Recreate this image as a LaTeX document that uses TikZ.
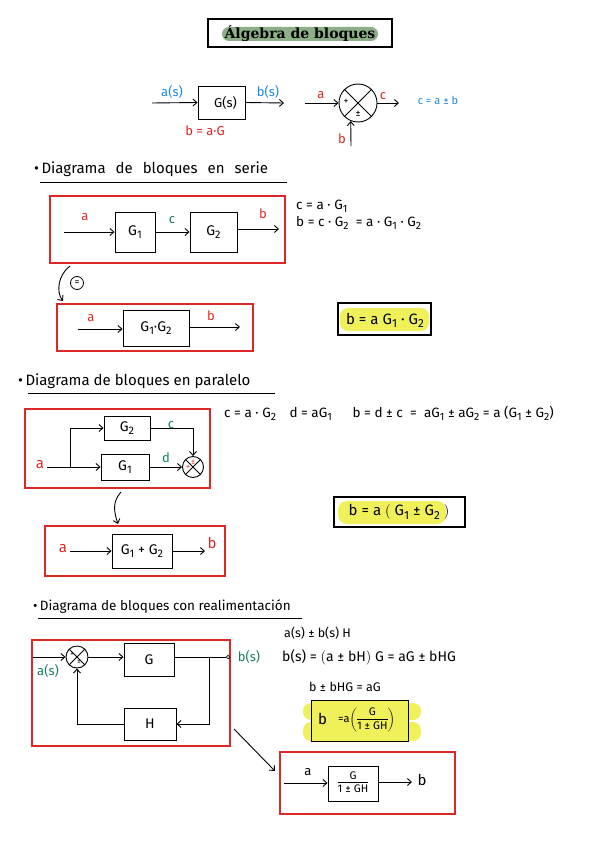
\documentclass[tikz,border=0pt]{standalone}
\usepackage{fontspec}
\setmainfont{Fira Sans}
\newfontfamily\titlefont{DejaVu Serif}
\usetikzlibrary{arrows.meta,calc}
\definecolor{myred}{RGB}{222,40,40}
\definecolor{myblue}{RGB}{30,136,229}
\definecolor{mygreen}{RGB}{25,125,95}
\definecolor{hlyellow}{RGB}{240,240,90}
\definecolor{hlgreen}{RGB}{140,175,135}
\newcommand{\wsp}{\hspace{6pt}}
\newcommand{\sbs}[1]{\raisebox{-0.4ex}{\scalebox{0.78}{#1}}}
\begin{document}
\begin{tikzpicture}[x=1pt,y=-1pt,
  blk/.style={draw,line width=0.9pt,inner sep=0pt,font=\fontsize{14}{16}\selectfont},
  frame/.style={draw=myred,line width=1.1pt,inner sep=0pt},
  arr/.style={-{Straight Barb[length=4pt,width=7pt]},line width=0.9pt},
  ln/.style={line width=0.9pt},
  lbl/.style={font=\fontsize{13}{15}\selectfont,inner sep=0pt},
  eqn/.style={font=\fontsize{13.5}{15}\selectfont,inner sep=0pt,anchor=west},
  head/.style={font=\fontsize{15}{18}\selectfont,inner sep=0pt,anchor=west},
  summer/.style={draw,circle,line width=0.9pt,inner sep=0pt},
  sgn/.style={font=\fontsize{10}{11}\selectfont,inner sep=0pt},
  res/.style={draw,line width=1.1pt,inner sep=0pt}]
\useasboundingbox (0,0) rectangle (599,848);
\fill[white] (0,0) rectangle (599,848);

% ---------------- title
\node[res,minimum width=184pt,minimum height=28pt] (tbox) at (300,33) {};
\fill[hlgreen,rounded corners=7pt] (222,27) rectangle (378,41);
\node[font=\titlefont\bfseries\fontsize{14}{16}\selectfont,inner sep=0pt] (ttext) at (300,34) {Álgebra de bloques};

% ---------------- basic block
\coordinate (in0) at (152,103);
\node[blk,minimum width=47pt,minimum height=33pt,font=\fontsize{13}{15}\selectfont] (gs) at (221.5,102.5) {\hspace*{8pt}G(s)};
\coordinate (out0) at (284,103);
\draw[arr] (in0) -- (gs.west);
\draw[arr] (gs.east) -- (out0);
\node[lbl,text=myblue] (las) at (172,92) {a(s)};
\node[lbl,text=myblue] (lbs) at (268,92) {b(s)};
\node[lbl,text=myred] (lbag) at (205,131) {b = a·G};

% ---------------- basic summer
\node[summer,minimum size=38pt] (s1) at (358,103) {};
\draw[ln] (s1.north west) -- (s1.south east);
\draw[ln] (s1.north east) -- (s1.south west);
\coordinate (s1in) at (305,103);
\coordinate (s1out) at (399,103);
\coordinate (s1b) at (351,146);
\draw[arr] (s1in) -- (s1.west);
\draw[arr] (s1.east) -- (s1out);
\draw[arr] (s1b) -- (s1.-112);
\node[lbl,text=myred] (s1la) at (321,95) {a};
\node[lbl,text=myred] (s1lc) at (383,96) {c};
\node[lbl,text=myred] (s1lb) at (342,139) {b};
\node[sgn] (s1p) at (346,102) {+};
\node[sgn] (s1pm) at (358,114) {±};
\node[font=\fontsize{11}{13}\selectfont,text=myblue,inner sep=0pt] (ceq) at (438,100) {c = a ± b};

% ---------------- section 1: serie
\node[head] (h1) at (34,169) {•\,Diagrama\wsp{} de\wsp{} bloques\wsp{} en\wsp{} serie};
\coordinate (u1a) at (40,182); \coordinate (u1b) at (287,182);
\draw[ln] (u1a) -- (u1b);

\node[frame,minimum width=235pt,minimum height=67pt] (f1) at (167.5,229.5) {};
\coordinate (f1in) at (64,232);
\node[blk,minimum width=40pt,minimum height=40pt] (g1) at (135,232) {G\sbs{1}};
\node[blk,minimum width=47pt,minimum height=40pt] (g2) at (213.5,232) {G\sbs{2}};
\coordinate (f1out) at (279,229);
\draw[arr] (f1in) -- (g1.west);
\draw[arr] (g1.east) -- (g2.west);
\draw[arr] (g2.east |- f1out) -- (f1out);
\node[lbl,text=myred] (f1a) at (85,217) {a};
\node[lbl,text=mygreen] (f1c) at (172,220) {c};
\node[lbl,text=myred] (f1b) at (263,214) {b};
\node[eqn] (e1a) at (296,206) {c = a · G\sbs{1}};
\node[eqn] (e1b) at (296,223) {b = c · G\sbs{2} \ = a · G\sbs{1} · G\sbs{2}};

\coordinate (c1s) at (70,266);
\coordinate (c1e) at (63,301);
\draw[arr] (c1s) .. controls (58,275) and (56,292) .. (c1e);
\node[draw,circle,line width=0.8pt,inner sep=0pt,minimum size=13pt,font=\fontsize{10}{11}\selectfont] (eq1) at (77,283) {=};

\node[frame,minimum width=196pt,minimum height=47pt] (f2) at (155,327.5) {};
\coordinate (f2in) at (78,329);
\node[blk,minimum width=66pt,minimum height=36pt] (g12) at (156,328) {G\sbs{1}·G\sbs{2}};
\coordinate (f2out) at (240,327);
\draw[arr] (f2in) -- (g12.west |- f2in);
\draw[arr] (g12.east |- f2out) -- (f2out);
\node[lbl,text=myred] (f2a) at (91,318) {a};
\node[lbl,text=myred] (f2b) at (211,316) {b};

\node[res,minimum width=93pt,minimum height=32pt] (r1) at (384.5,319) {};
\fill[hlyellow,rounded corners=8pt] (340,308) rectangle (429,331);
\node[font=\fontsize{15}{17}\selectfont,inner sep=0pt] (r1t) at (385,320) {b = a G\sbs{1} · G\sbs{2}};

% ---------------- section 2: paralelo
\node[head] (h2) at (18,381) {•\,Diagrama de bloques en paralelo};
\coordinate (u2a) at (28,393); \coordinate (u2b) at (275,393);
\draw[ln] (u2a) -- (u2b);

\node[frame,minimum width=185pt,minimum height=79pt] (f3) at (117.5,448.5) {};
\coordinate (pa) at (47,467);
\coordinate (pb) at (70,467);
\node[blk,minimum width=46pt,minimum height=24pt] (pg2) at (127,428) {G\sbs{2}};
\node[blk,minimum width=48pt,minimum height=26pt] (pg1) at (125,467) {G\sbs{1}};
\node[summer,minimum size=21pt] (s2) at (193,467) {};
\draw[ln] (s2.north west) -- (s2.south east);
\draw[ln] (s2.north east) -- (s2.south west);
\draw[arr] (pa) -- (pg1.west);
\draw[arr] (pb) |- (pg2.west);
\draw[arr] (pg2.east) -| (s2.north);
\draw[arr] (pg1.east) -- (s2.west);
\node[lbl,text=myred,font=\fontsize{15}{17}\selectfont] (pa_l) at (40,465) {a};
\node[lbl,text=mygreen] (pc_l) at (171,425) {c};
\node[lbl,text=mygreen] (pd_l) at (166,458) {d};
\node[sgn,text=myred,font=\fontsize{8}{9}\selectfont] (s2pm) at (193,462) {±};
\node[sgn,text=myred,font=\fontsize{8}{9}\selectfont] (s2p) at (188,467) {+};
\node[eqn] (e2) at (224,413) {c = a · G\sbs{2}\quad d = aG\sbs{1}\quad\ \ b = d ± c \ = \ aG\sbs{1} ± aG\sbs{2} = a (G\sbs{1} ± G\sbs{2})};

\coordinate (c2s) at (121,492);
\coordinate (c2e) at (118,524);
\draw[arr] (c2s) .. controls (112,502) and (114,512) .. (c2e);

\node[frame,minimum width=180pt,minimum height=50pt] (f4) at (135,551) {};
\coordinate (pa2) at (70,551);
\node[blk,minimum width=60pt,minimum height=34pt] (g1pg2) at (142,551) {G\sbs{1} + G\sbs{2}};
\coordinate (pb2) at (205,551);
\draw[arr] (pa2) -- (g1pg2.west);
\draw[arr] (g1pg2.east) -- (pb2);
\node[lbl,text=myred,font=\fontsize{15}{17}\selectfont] (f4a) at (63,549) {a};
\node[lbl,text=myred,font=\fontsize{15}{17}\selectfont] (f4b) at (212,543) {b};

\node[res,minimum width=131pt,minimum height=30pt] (r2) at (399.5,512) {};
\fill[hlyellow,rounded corners=9pt] (338,501) rectangle (446,524);
\node[font=\fontsize{15}{17}\selectfont,inner sep=0pt] (r2t) at (399,512) {b = a $\Big($ G\sbs{1} ± G\sbs{2} $\Big)$};

% ---------------- section 3: realimentacion
\node[head,font=\fontsize{13.5}{16}\selectfont] (h3) at (33,607) {•\,Diagrama de bloques con realimentación};
\coordinate (u3a) at (38,618); \coordinate (u3b) at (302,618);
\draw[ln] (u3a) -- (u3b);

\node[frame,minimum width=198pt,minimum height=106pt] (f5) at (131,693) {};
\coordinate (fin) at (33,657);
\node[summer,minimum size=22pt] (s3) at (77,657) {};
\draw[ln] (s3.north west) -- (s3.south east);
\draw[ln] (s3.north east) -- (s3.south west);
\node[blk,minimum width=50pt,minimum height=33pt] (gf) at (149,659.5) {G};
\node[blk,minimum width=52pt,minimum height=32pt] (hf) at (150,724) {H};
\coordinate (fout) at (226,657);
\coordinate (br) at (209,657);
\draw[arr] (fin) -- (s3.west);
\draw[arr] (s3.east) -- (gf.west |- s3.east);
\draw[ln] (gf.east |- fout) -- (fout);
\node[draw,circle,line width=0.7pt,inner sep=0pt,minimum size=3.5pt,fill=white] (oc) at (228,657) {};
\draw[arr] (br) |- (hf.east);
\draw[arr] (hf.west) -| (s3.south);
\node[sgn,font=\fontsize{7}{8}\selectfont] (s3p) at (72,655) {+};
\node[sgn,font=\fontsize{7}{8}\selectfont] (s3pm) at (79,662) {±};
\node[lbl,text=mygreen] (fas) at (48,671) {a(s)};
\node[lbl,text=mygreen] (fbs) at (249,657) {b(s)};

\node[eqn,font=\fontsize{12.5}{15}\selectfont] (e3a) at (284,633) {a(s) ± b(s) H};
\node[eqn,font=\fontsize{14}{16}\selectfont] (e3b) at (282,657) {b(s) = $\Big($a ± bH$\Big)$ G = aG ± bHG};
\node[eqn,font=\fontsize{12.5}{15}\selectfont] (e3c) at (309,687) {b ± bHG = aG};

\fill[hlyellow,rounded corners=8pt] (303,703) rectangle (421,720);
\fill[hlyellow,rounded corners=8pt] (303,722) rectangle (421,741);
\node[res,fill=hlyellow,line width=0.9pt,minimum width=97pt,minimum height=41pt] (r3) at (359.5,720.5) {};
\node[font=\fontsize{15}{17}\selectfont,inner sep=0pt,anchor=west] (r3b) at (318,719) {b};
\node[font=\fontsize{11}{13}\selectfont,inner sep=0pt,anchor=west] (r3t) at (338,720) {=a$\left(\begin{tabular}{@{}c@{}}G\\[-1pt]\hline\rule{0pt}{10pt}1 ± GH\end{tabular}\right)$};

\coordinate (c3s) at (234,729);
\coordinate (c3e) at (275,771);
\draw[arr] (c3s) -- (c3e);

\node[frame,minimum width=175pt,minimum height=62pt] (f6) at (367.5,783) {};
\coordinate (f6in) at (284,783);
\node[blk,minimum width=50pt,minimum height=35pt,font=\fontsize{11}{13}\selectfont] (gcl) at (353,783.5) {\begin{tabular}{@{}c@{}}G\\[-1pt]\hline\rule{0pt}{10pt}1 ± GH\end{tabular}};
\coordinate (f6out) at (412,782);
\draw[arr] (f6in) -- (gcl.west |- f6in);
\draw[arr] (gcl.east |- f6out) -- (f6out);
\node[lbl] (f6a) at (308,772) {a};
\node[lbl,font=\fontsize{15}{17}\selectfont] (f6b) at (422,780) {b};
\end{tikzpicture}
\end{document}
